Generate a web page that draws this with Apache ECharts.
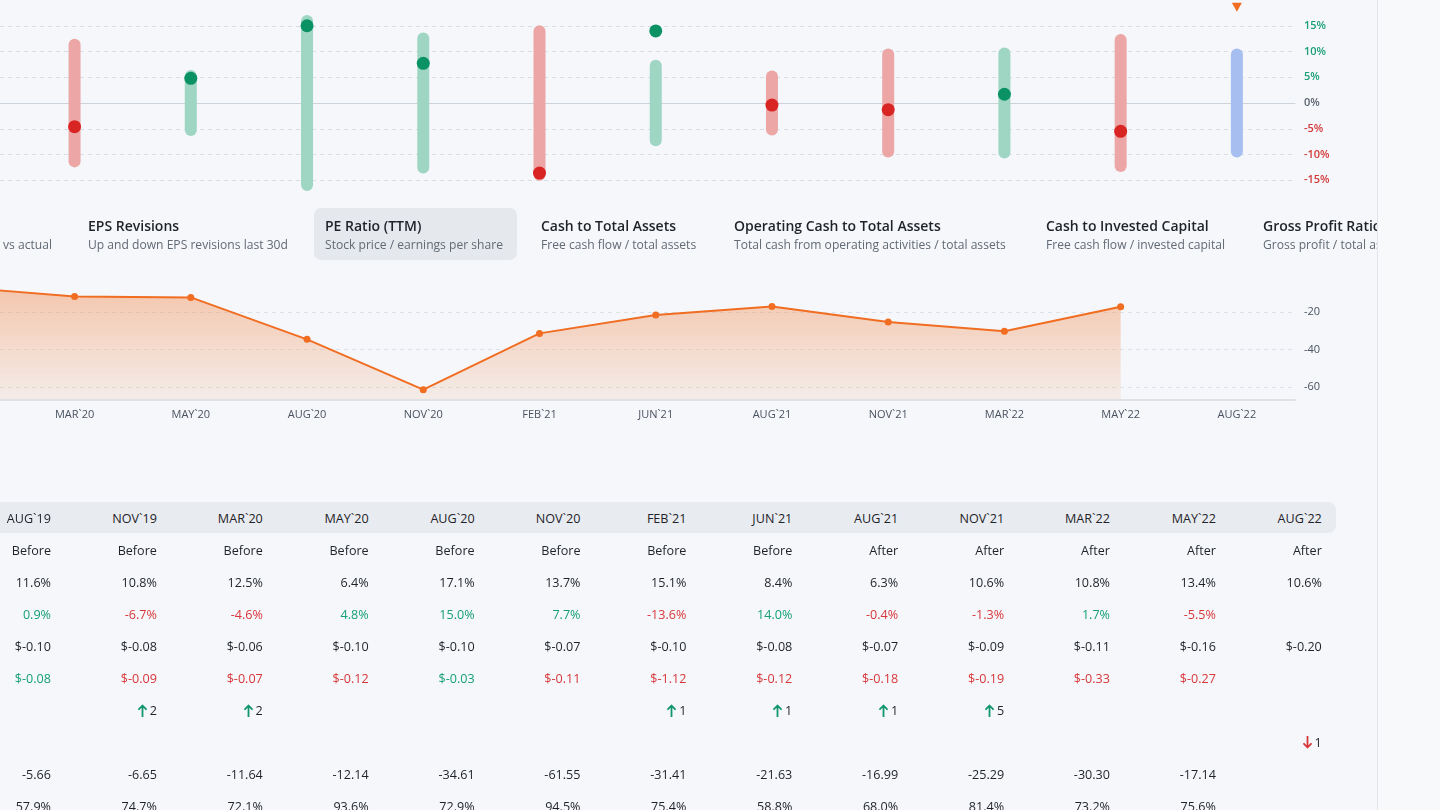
<!DOCTYPE html>
<html>
<head>
<meta charset="utf-8">
<script src="https://cdn.jsdelivr.net/npm/echarts@6/dist/echarts.min.js"></script>
<style>
  html, body { margin: 0; padding: 0; }
  body { width: 1440px; height: 810px; overflow: hidden; background: #f5f7fa; position: relative; font-family: "Open Sans", "Noto Sans", sans-serif; }
  #chart { position: absolute; left: -216px; top: 0; width: 1656px; height: 810px; }
  .tab { position: absolute; top: 208px; height: 52px; white-space: nowrap; }
  .tab.active { background: #e5e9ee; border-radius: 7px; }
  .tab .t { position: absolute; top: 8px; font-size: 14px; font-weight: 600; color: #1f2329; line-height: 20px; }
  .tab .s { position: absolute; top: 27px; font-size: 12.1px; color: #626a75; line-height: 20px; }
  #thead { position: absolute; left: -20px; top: 502px; width: 1356px; height: 31px; background: #e8ecf0; border-radius: 0 8px 8px 0; }
  .cell { position: absolute; font-size: 12.6px; color: #1f2329; line-height: 18px; text-align: right; white-space: nowrap; }
  .cell svg { vertical-align: -2px; margin-right: 3px; }
  .g { color: #16a074; }
  .r { color: #d7373a; }
  #panel { position: absolute; left: 1377px; top: 0; width: 63px; height: 810px; background: #f8f9fb; border-left: 1px solid #e2e5e9; z-index: 10; }
</style>
</head>
<body>
<div id="chart"></div>
<div id="tabs"></div>
<div id="thead"></div>
<div id="table"></div>
<div id="panel"></div>
<script>
// ---------- data ----------
const periods = ['AUG`19','NOV`19','MAR`20','MAY`20','AUG`20','NOV`20','FEB`21','JUN`21','AUG`21','NOV`21','MAR`22','MAY`22','AUG`22'];
const timing = ['Before','Before','Before','Before','Before','Before','Before','Before','After','After','After','After','After'];
const expectedMove = [11.6, 10.8, 12.5, 6.4, 17.1, 13.7, 15.1, 8.4, 6.3, 10.6, 10.8, 13.4, 10.6];
const actualMove = [0.9, -6.7, -4.6, 4.8, 15.0, 7.7, -13.6, 14.0, -0.4, -1.3, 1.7, -5.5, null];
const epsEstimate = ['-0.10','-0.08','-0.06','-0.10','-0.10','-0.07','-0.10','-0.08','-0.07','-0.09','-0.11','-0.16','-0.20'];
const epsActual = ['-0.08','-0.09','-0.07','-0.12','-0.03','-0.11','-1.12','-0.12','-0.18','-0.19','-0.33','-0.27',null];
const revisionsUp = [null, 2, 2, null, null, null, 1, 1, 1, 5, null, null, null];
const revisionsDown = [null, null, null, null, null, null, null, null, null, null, null, null, 1];
const peRatio = [-5.66, -6.65, -11.64, -12.14, -34.61, -61.55, -31.41, -21.63, -16.99, -25.29, -30.30, -17.14, null];
const grossMargin = ['57.9%','74.7%','72.1%','93.6%','72.9%','94.5%','75.4%','58.8%','68.0%','81.4%','73.2%','75.6%',null];
const movePctTicks = [-15, -10, -5, 0, 5, 10, 15];
const peTicks = [-20, -40, -60];
const currentPeriod = 'AUG`22';
const tabs = [
  { title: '', sub: 'vs actual', left: 3 },
  { title: 'EPS Revisions', sub: 'Up and down EPS revisions last 30d', left: 88 },
  { title: 'PE Ratio (TTM)', sub: 'Stock price / earnings per share', left: 325, active: true },
  { title: 'Cash to Total Assets', sub: 'Free cash flow / total assets', left: 541 },
  { title: 'Operating Cash to Total Assets', sub: 'Total cash from operating activities / total assets', left: 734 },
  { title: 'Cash to Invested Capital', sub: 'Free cash flow / invested capital', left: 1046 },
  { title: 'Gross Profit Ratio', sub: 'Gross profit / total assets', left: 1263 }
];

// ---------- colours ----------
const C = {
  barUp: '#9fd6c3', barDown: '#eca6a6', barNone: '#a7bff0',
  dotUp: '#0a9265', dotDown: '#d92424',
  grid: '#d9dee5', zero: '#cdd3da',
  orange: '#f06d22'
};

// ---------- chart ----------
const chart = echarts.init(document.getElementById('chart'), null, { renderer: 'canvas' });
const GR = 145;

const option = {
  animation: false,
  backgroundColor: 'transparent',
  grid: [
    { left: 0, right: GR, top: -2, height: 208 },
    { left: 0, right: GR, top: 274.7, height: 124.6 }
  ],
  xAxis: [
    { type: 'category', gridIndex: 0, data: periods,
      axisLine: { show: true, onZero: true, lineStyle: { color: C.zero, width: 1 } },
      axisTick: { show: false }, axisLabel: { show: false }, splitLine: { show: false } },
    { type: 'category', gridIndex: 1, data: periods,
      axisLine: { show: true, onZero: false, lineStyle: { color: '#dfe3e8', width: 2 } },
      axisTick: { show: false },
      axisLabel: { interval: 0, margin: 10, color: '#4a5260', fontSize: 11, fontFamily: 'Open Sans' },
      splitLine: { show: false } }
  ],
  yAxis: [
    { type: 'value', gridIndex: 0, position: 'right', min: -20, max: 20, interval: 5,
      axisLine: { show: false }, axisTick: { show: false },
      splitLine: { show: true, showMinLine: false, showMaxLine: false, lineStyle: { color: C.grid, type: [4, 4] } },
      axisLabel: {
        margin: 9, fontFamily: 'Open Sans', fontSize: 11, fontWeight: 600,
        formatter: v => {
          if (!movePctTicks.includes(v)) return '';
          if (v > 0) return '{p|' + v + '%}';
          if (v < 0) return '{n|' + v + '%}';
          return '{z|0%}';
        },
        rich: {
          p: { color: '#1b9f76', fontSize: 11, fontWeight: 600, fontFamily: 'Open Sans' },
          n: { color: '#d23a3a', fontSize: 11, fontWeight: 600, fontFamily: 'Open Sans' },
          z: { color: '#5b636e', fontSize: 11, fontWeight: 600, fontFamily: 'Open Sans' }
        }
      } },
    { type: 'value', gridIndex: 1, position: 'right', min: -66.7, max: 0, splitNumber: 3,
      axisLine: { show: false }, axisTick: { show: false },
      splitLine: { show: true, showMinLine: false, showMaxLine: false, lineStyle: { color: '#dde2ea', type: [4, 4] } },
      axisLabel: {
        margin: 9, color: '#4a5260', fontSize: 11, fontFamily: 'Open Sans',
        formatter: v => peTicks.includes(v) ? String(v) : ''
      } }
  ],
  series: [
    {
      type: 'custom', xAxisIndex: 0, yAxisIndex: 0, z: 2,
      encode: { x: 0, y: 1 },
      data: periods.map((p, i) => [i, expectedMove[i], actualMove[i] == null ? '-' : actualMove[i]]),
      renderItem: (params, api) => {
        const i = api.value(0), r = api.value(1), m = api.value(2);
        const top = api.coord([i, r]), bot = api.coord([i, -r]);
        const w = 12;
        const fill = isNaN(m) ? C.barNone : (m >= 0 ? C.barUp : C.barDown);
        return { type: 'rect', shape: { x: top[0] - w / 2, y: top[1], width: w, height: bot[1] - top[1], r: w / 2 }, style: { fill } };
      }
    },
    {
      type: 'scatter', xAxisIndex: 0, yAxisIndex: 0, z: 3,
      symbol: 'circle', symbolSize: 13,
      data: actualMove.map(v => v == null ? '-' : v),
      itemStyle: { opacity: 1, color: p => p.value >= 0 ? C.dotUp : C.dotDown }
    },
    {
      type: 'scatter', xAxisIndex: 0, yAxisIndex: 0, z: 4,
      symbol: 'triangle', symbolRotate: 180, symbolSize: [10, 9],
      data: [[currentPeriod, 18.6]],
      itemStyle: { opacity: 1, color: C.orange }
    },
    {
      type: 'line', xAxisIndex: 1, yAxisIndex: 1,
      data: peRatio.map(v => v == null ? '-' : v),
      symbol: 'circle', symbolSize: 7, showSymbol: true,
      lineStyle: { color: C.orange, width: 2 },
      itemStyle: { color: C.orange },
      areaStyle: {
        origin: 'start',
        color: new echarts.graphic.LinearGradient(0, 0, 0, 1, [
          { offset: 0, color: 'rgba(243,140,80,0.66)' },
          { offset: 1, color: 'rgba(243,140,80,0.14)' }
        ])
      }
    }
  ]
};
chart.setOption(option);

// ---------- tabs ----------
const tabsEl = document.getElementById('tabs');
tabs.forEach(t => {
  const d = document.createElement('div');
  d.className = 'tab' + (t.active ? ' active' : '');
  const pad = t.active ? 11 : 0;
  d.style.left = (t.left - pad) + 'px';
  d.style.width = t.active ? '203px' : '400px';
  d.innerHTML = (t.title ? '<div class="t" style="left:' + pad + 'px">' + t.title + '</div>' : '') +
                '<div class="s" style="left:' + pad + 'px">' + t.sub + '</div>';
  tabsEl.appendChild(d);
});

// ---------- table ----------
const arrowUp = '<svg width="9" height="13" viewBox="0 0 9 13"><path d="M4.5 12.5V2M1 5.2L4.5 1.5L8 5.2" fill="none" stroke="#12966b" stroke-width="1.8" stroke-linecap="round" stroke-linejoin="round"/></svg>';
const arrowDn = '<svg width="9" height="13" viewBox="0 0 9 13"><path d="M4.5 0.5V11M1 7.8L4.5 11.5L8 7.8" fill="none" stroke="#d7373a" stroke-width="1.8" stroke-linecap="round" stroke-linejoin="round"/></svg>';
const tableEl = document.getElementById('table');
const colRight = i => 51 + 105.9 * i;
const rowY = [518, 550, 582, 614, 646, 678, 710, 742, 774, 806];
function cell(html, col, row, cls) {
  const d = document.createElement('div');
  d.className = 'cell' + (cls ? ' ' + cls : '');
  d.style.right = (1440 - colRight(col)) + 'px';
  d.style.top = (rowY[row] - 8) + 'px';
  d.innerHTML = html;
  tableEl.appendChild(d);
}
periods.forEach((p, i) => {
  cell(p, i, 0);
  cell(timing[i], i, 1);
  cell(expectedMove[i].toFixed(1) + '%', i, 2);
  if (actualMove[i] != null) cell(actualMove[i].toFixed(1) + '%', i, 3, actualMove[i] >= 0 ? 'g' : 'r');
  cell('$' + epsEstimate[i], i, 4);
  if (epsActual[i] != null) cell('$' + epsActual[i], i, 5, parseFloat(epsActual[i]) >= parseFloat(epsEstimate[i]) ? 'g' : 'r');
  if (revisionsUp[i] != null) cell(arrowUp + revisionsUp[i], i, 6);
  if (revisionsDown[i] != null) cell(arrowDn + revisionsDown[i], i, 7);
  if (peRatio[i] != null) cell(peRatio[i].toFixed(2), i, 8);
  if (grossMargin[i] != null) cell(grossMargin[i], i, 9);
});
</script>
</body>
</html>
